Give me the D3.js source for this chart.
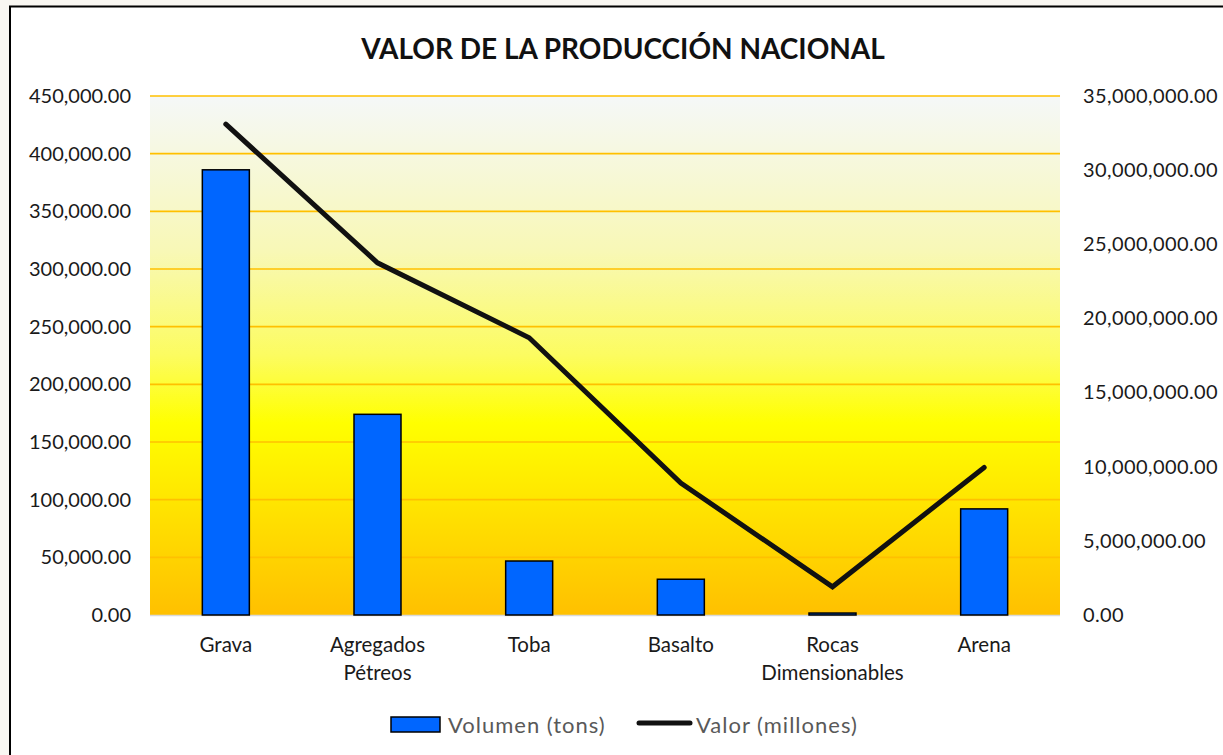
<!DOCTYPE html>
<html>
<head>
<meta charset="utf-8">
<script src="https://cdn.jsdelivr.net/npm/d3@7"></script>
<style>
  html, body { margin: 0; padding: 0; background: #f9f7f2; }
  svg { display: block; }
</style>
</head>
<body>
<svg id="chart" width="1223" height="755"></svg>
<script>
const categories = [["Grava"], ["Agregados", "Pétreos"], ["Toba"], ["Basalto"], ["Rocas", "Dimensionables"], ["Arena"]];
const volumen = [386000, 174000, 46800, 31000, 1700, 92000];
const valor = [33100000, 23750000, 18700000, 8900000, 1900000, 9950000];
const leftTicks = [0, 50000, 100000, 150000, 200000, 250000, 300000, 350000, 400000, 450000];
const rightTicks = [0, 5000000, 10000000, 15000000, 20000000, 25000000, 30000000, 35000000];
const title = "VALOR DE LA PRODUCCIÓN NACIONAL";
const seriesNames = ["Volumen (tons)", "Valor (millones)"];

const svg = d3.select("#chart");
const font = "Lato, 'Open Sans', sans-serif";

// chart area (white with border)
svg.append("rect").attr("x", 10).attr("y", 6.5).attr("width", 1240).attr("height", 780)
  .attr("fill", "#ffffff").attr("stroke", "#000").attr("stroke-width", 2);

const plot = { left: 150, right: 1060, top: 96, bottom: 615 };

const x = d3.scaleBand().domain(d3.range(categories.length)).range([plot.left, plot.right]).paddingInner(0).paddingOuter(0);
const yL = d3.scaleLinear().domain([0, 450000]).range([plot.bottom, plot.top]);
const yR = d3.scaleLinear().domain([0, 35000000]).range([plot.bottom, plot.top]);

// gradient
const defs = svg.append("defs");
const grad = defs.append("linearGradient").attr("id", "bg").attr("x1", 0).attr("y1", 0).attr("x2", 0).attr("y2", 1);
[[0, "#f5f8f8"], [0.3, "#f8f8b6"], [0.5, "#fcfc60"], [0.63, "#ffff00"], [1, "#ffc000"]].forEach(s =>
  grad.append("stop").attr("offset", s[0]).attr("stop-color", s[1]));

svg.append("rect").attr("x", plot.left).attr("y", plot.top)
  .attr("width", plot.right - plot.left).attr("height", plot.bottom - plot.top)
  .attr("fill", "url(#bg)");

// gridlines
svg.append("g").selectAll("line").data(leftTicks.filter(d => d > 0)).join("line")
  .attr("x1", plot.left).attr("x2", plot.right)
  .attr("y1", d => yL(d)).attr("y2", d => yL(d))
  .attr("stroke", "#ffc000").attr("stroke-width", 1.6);

// baseline
svg.append("line").attr("x1", plot.left).attr("x2", plot.right)
  .attr("y1", plot.bottom + 0.5).attr("y2", plot.bottom + 0.5)
  .attr("stroke", "#d9d9d9").attr("stroke-width", 1.5);

// left axis
const fmt = d3.format(",.2f");
const axL = d3.axisLeft(yL).tickValues(leftTicks).tickFormat(fmt).tickSize(0).tickPadding(0);
const gL = svg.append("g").attr("transform", `translate(${plot.left - 19},0)`).call(axL);
gL.select(".domain").remove();
gL.selectAll("text").attr("font-family", font).attr("font-size", 20).attr("fill", "#1a1a1a");

const axR = d3.axisRight(yR).tickValues(rightTicks).tickFormat(fmt).tickSize(0).tickPadding(0);
const gR = svg.append("g").attr("transform", `translate(${plot.right + 23},0)`).call(axR);
gR.select(".domain").remove();
gR.selectAll("text").attr("font-family", font).attr("font-size", 20).attr("letter-spacing", 0.4).attr("fill", "#1a1a1a");

// bars
const bw = 47;
svg.append("g").selectAll("rect").data(volumen).join("rect")
  .attr("x", (d, i) => x(i) + x.bandwidth() / 2 - bw / 2)
  .attr("y", d => yL(d))
  .attr("width", bw)
  .attr("height", d => yL(0) - yL(d))
  .attr("fill", "#0066ff").attr("stroke", "#000").attr("stroke-width", 1.5);

// line
const line = d3.line().x((d, i) => x(i) + x.bandwidth() / 2).y(d => yR(d));
svg.append("path").datum(valor).attr("d", line)
  .attr("fill", "none").attr("stroke", "#111").attr("stroke-width", 5)
  .attr("stroke-linecap", "round").attr("stroke-linejoin", "miter");

// category labels
const cl = svg.append("g");
categories.forEach((lines, i) => {
  const t = cl.append("text").attr("x", x(i) + x.bandwidth() / 2).attr("y", 652)
    .attr("text-anchor", "middle").attr("font-family", font).attr("font-size", 20.5).attr("fill", "#1a1a1a");
  lines.forEach((l, j) => t.append("tspan").attr("x", x(i) + x.bandwidth() / 2).attr("dy", j === 0 ? 0 : 28).text(l));
});

// title
svg.append("text").attr("x", 623).attr("y", 59).attr("text-anchor", "middle")
  .attr("font-family", font).attr("font-weight", "bold").attr("font-size", 28).attr("fill", "#111")
  .text(title);

// legend
const lg = svg.append("g");
lg.append("rect").attr("x", 391).attr("y", 717).attr("width", 49).attr("height", 15)
  .attr("fill", "#0066ff").attr("stroke", "#000").attr("stroke-width", 1.5);
lg.append("text").attr("x", 448).attr("y", 733).attr("font-family", font).attr("font-size", 22).attr("letter-spacing", 1).attr("fill", "#595959").text(seriesNames[0]);
lg.append("line").attr("x1", 639).attr("x2", 690).attr("y1", 723).attr("y2", 723)
  .attr("stroke", "#111").attr("stroke-width", 5).attr("stroke-linecap", "round");
lg.append("text").attr("x", 696).attr("y", 733).attr("font-family", font).attr("font-size", 22).attr("letter-spacing", 1).attr("fill", "#595959").text(seriesNames[1]);
</script>
</body>
</html>
